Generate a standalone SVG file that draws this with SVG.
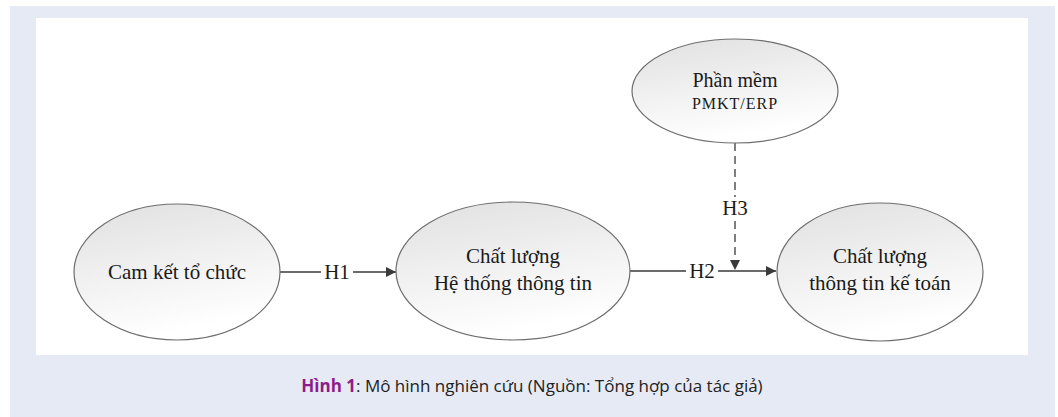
<svg xmlns="http://www.w3.org/2000/svg" width="1058" height="417" viewBox="0 0 1058 417">
<style>
.node ellipse{fill:url(#g);stroke:#6e6e6e;stroke-width:1.2}
.t{font-family:"Liberation Serif","Times New Roman",serif;fill:#1a1a1a;text-anchor:middle}
.ln{stroke:#3a3a3a;stroke-width:1.3;fill:none}
.lb{fill:#ffffff}
.cap{font-family:"Liberation Sans Narrow","Open Sans",sans-serif;font-size:17px;fill:#222}
</style>
<defs>
<linearGradient id="g" x1="0" y1="0" x2="0.3" y2="1">
<stop offset="0" stop-color="#e0e0e0"/>
<stop offset="1" stop-color="#ffffff"/>
</linearGradient>
<marker id="ah" viewBox="0 0 10 10" refX="10" refY="5" markerWidth="12" markerHeight="10" markerUnits="userSpaceOnUse" orient="auto">
<path d="M0,0 L10,5 L0,10 Z" fill="#3a3a3a"/>
</marker>
</defs>
<rect x="10" y="6" width="1045" height="411" fill="#e6eaf5"/>
<rect x="36" y="18" width="992" height="337" fill="#ffffff"/>
<g id="connectors">
<line class="ln" x1="280" y1="272" x2="396" y2="272" marker-end="url(#ah)"/>
<rect class="lb" x="321" y="261" width="32" height="22"/>
<text class="t" x="337" y="279" font-size="21">H1</text>
<line class="ln" x1="630" y1="271" x2="776" y2="271" marker-end="url(#ah)"/>
<rect class="lb" x="686" y="260" width="32" height="22"/>
<text class="t" x="702" y="278" font-size="21">H2</text>
<line class="ln" x1="735" y1="143" x2="735" y2="270" stroke-dasharray="8,5" marker-end="url(#ah)"/>
<rect class="lb" x="719" y="197" width="32" height="22"/>
<text class="t" x="735" y="215" font-size="21">H3</text>
</g>
<g id="n1" class="node">
<ellipse cx="177" cy="272" rx="103" ry="68"/>
<text class="t" x="177" y="279" font-size="21">Cam kết tổ chức</text>
</g>
<g id="n2" class="node">
<ellipse cx="513" cy="271" rx="117" ry="69"/>
<text class="t" x="513" y="263" font-size="21">Chất lượng</text>
<text class="t" x="513" y="290" font-size="21">Hệ thống thông tin</text>
</g>
<g id="n3" class="node">
<ellipse cx="880" cy="272" rx="103" ry="69"/>
<text class="t" x="880" y="263" font-size="21">Chất lượng</text>
<text class="t" x="880" y="290" font-size="21">thông tin kế toán</text>
</g>
<g id="n4" class="node">
<ellipse cx="735" cy="91" rx="103" ry="52"/>
<text class="t" x="735" y="87" font-size="20">Phần mềm</text>
<text class="t" x="735" y="109" font-size="16" letter-spacing="1">PMKT/ERP</text>
</g>
<text class="cap" x="532" y="392" text-anchor="middle"><tspan font-weight="bold" fill="#8e1b8c">Hình 1</tspan>: Mô hình nghiên cứu (Nguồn: Tổng hợp của tác giả)</text>
</svg>
